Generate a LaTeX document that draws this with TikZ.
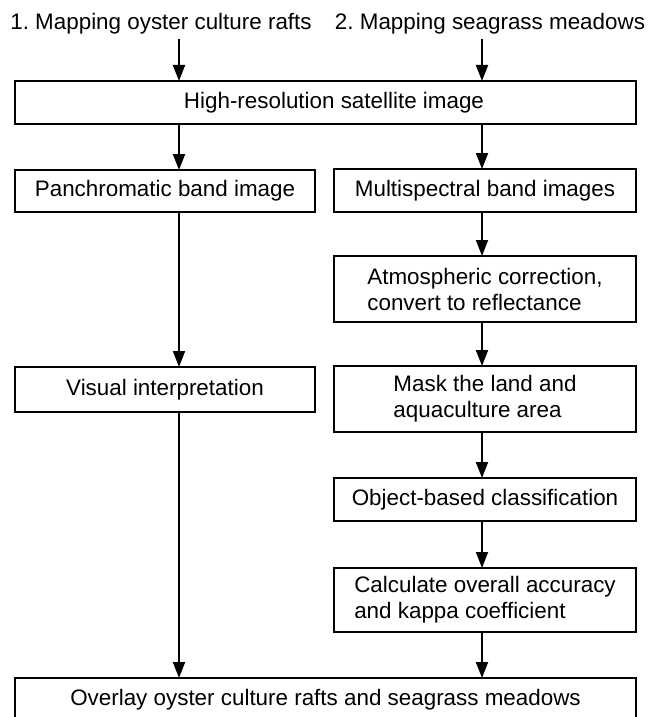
\documentclass[tikz,border=0pt]{standalone}
\usepackage{fontspec}
\setmainfont{Liberation Sans}
\usetikzlibrary{arrows.meta}
\frenchspacing
\begin{document}
\begin{tikzpicture}[x=1pt,y=-1pt,
  every node/.style={font=\fontsize{22.4}{26}\selectfont},
  box/.style={draw, line width=1.9pt, inner sep=0pt, outer sep=0pt, align=left},
  ttl/.style={inner sep=0pt, anchor=base},
  arr/.style={line width=1.9pt, -{Triangle[length=16pt,width=12pt]}}]
\useasboundingbox (0,0) rectangle (649,717);
\clip (0,0) rectangle (649,717);
\coordinate (xL) at (179,0);
\coordinate (xR) at (482,0);
% titles
\node[ttl] (t1) at (161,30) {1. Mapping oyster culture rafts};
\node[ttl] (t2) at (490,30) {2. Mapping seagrass meadows};
% boxes
\node[box, minimum width=621pt, minimum height=43pt] (top) at (325.5,102.5) {\hspace*{17pt}High-resolution satellite image};
\node[box, minimum width=300pt, minimum height=42pt] (pan) at (165,191) {Panchromatic band image};
\node[box, minimum width=302pt, minimum height=43pt] (multi) at (485,190.5) {Multispectral band images};
\node[box, minimum width=302pt, minimum height=66pt] (atm) at (485,289) {Atmospheric correction,\\convert to reflectance};
\node[box, minimum width=300pt, minimum height=45pt] (vis) at (165,389.5) {Visual interpretation};
\node[box, minimum width=302pt, minimum height=66pt] (mask) at (485,399) {Mask the land and\\aquaculture area};
\node[box, minimum width=302pt, minimum height=43pt] (obj) at (485,499.5) {Object-based classification};
\node[box, minimum width=302pt, minimum height=64pt] (calc) at (485,600) {Calculate overall accuracy\\and kappa coefficient};
\node[box, minimum width=621pt, minimum height=44pt] (ovl) at (325.5,700) {Overlay oyster culture rafts and seagrass meadows};
% arrows
\draw[arr] ([yshift=-4pt]t1.south -| xL) -- (top.north -| xL);
\draw[arr] ([yshift=-4pt]t2.south -| xR) -- (top.north -| xR);
\draw[arr] (top.south -| xL) -- (pan.north -| xL);
\draw[arr] (top.south -| xR) -- (multi.north -| xR);
\draw[arr] (pan.south -| xL) -- (vis.north -| xL);
\draw[arr] (multi.south -| xR) -- (atm.north -| xR);
\draw[arr] (atm.south -| xR) -- (mask.north -| xR);
\draw[arr] (mask.south -| xR) -- (obj.north -| xR);
\draw[arr] (obj.south -| xR) -- (calc.north -| xR);
\draw[arr] (calc.south -| xR) -- (ovl.north -| xR);
\draw[arr] (vis.south -| xL) -- (ovl.north -| xL);
\end{tikzpicture}
\end{document}
